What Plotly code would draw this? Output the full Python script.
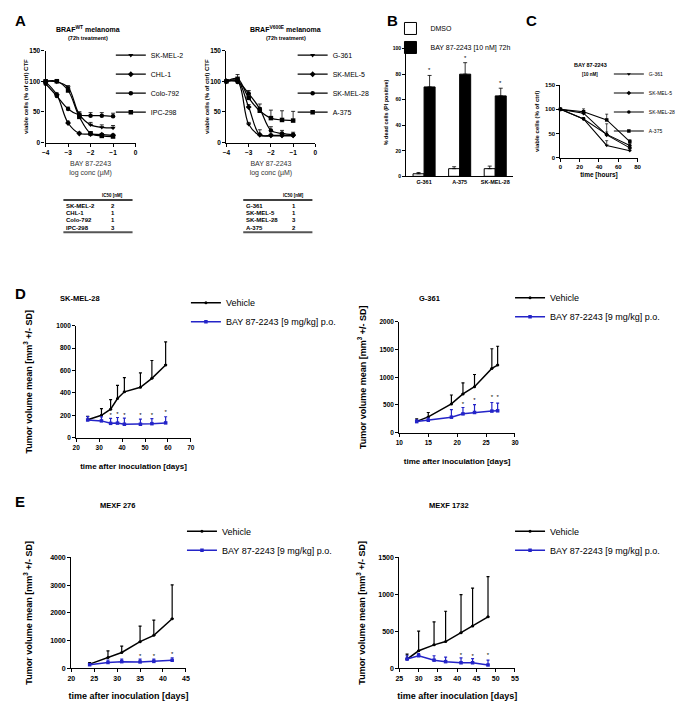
import plotly.graph_objects as go

W, H = 685, 701
OFF = 8                      # page body margin; the figure is drawn inside it
FW, FH = W - OFF, H - OFF

# ---------- A: dose response after 72 h ----------
log_conc = [-4, -3.5, -3, -2.5, -2, -1.5, -1]
symbols = ["triangle-down", "diamond", "circle", "square"]

wt_lines = ["SK-MEL-2", "CHL-1", "Colo-792", "IPC-298"]
wt_skmel2 = [100, 99, 90, 46, 29, 25, 24]
wt_chl1 = [99, 78, 32, 15, 14, 13, 12]
wt_colo792 = [96, 76, 55, 45, 44, 44, 43]
wt_ipc298 = [100, 100, 85, 42, 15, 11, 10]
wt_skmel2_err = [2, 2, 3, 4, 4, 4, 4]
wt_chl1_err = [2, 3, 3, 2, 2, 2, 2]
wt_colo792_err = [3, 3, 3, 5, 5, 5, 5]
wt_ipc298_err = [2, 3, 4, 4, 3, 3, 3]
wt_ic50 = [2, 1, 1, 3]

mut_lines = ["G-361", "SK-MEL-5", "SK-MEL-28", "A-375"]
mut_g361 = [100, 100, 30, 12, 11, 11, 11]
mut_skmel5 = [100, 101, 58, 13, 12, 12, 12]
mut_skmel28 = [100, 99, 80, 55, 20, 15, 13]
mut_a375 = [100, 104, 73, 52, 40, 37, 36]
mut_g361_err = [2, 3, 3, 2, 2, 2, 2]
mut_skmel5_err = [2, 3, 4, 8, 2, 2, 2]
mut_skmel28_err = [2, 4, 5, 8, 6, 5, 4]
mut_a375_err = [2, 7, 6, 5, 13, 15, 15]
mut_ic50 = [1, 1, 3, 2]

# ---------- B: dead cells ----------
b_cells = ["G-361", "A-375", "SK-MEL-28"]
b_dmso = [2, 6, 6]
b_dmso_err = [1, 1.5, 2]
b_bay = [70, 80, 63]
b_bay_err = [9, 9, 6]

# ---------- C: time course ----------
c_hours = [0, 24, 48, 72]
c_g361 = [100, 80, 25, 14]
c_skmel5 = [100, 92, 47, 20]
c_skmel28 = [100, 80, 48, 25]
c_a375 = [100, 95, 78, 33]
c_g361_err = [2, 3, 10, 3]
c_skmel5_err = [2, 3, 23, 3]
c_skmel28_err = [2, 3, 5, 4]
c_a375_err = [2, 6, 12, 4]

# ---------- D / E: xenografts ----------
d1_days = [25, 31, 35, 38, 41, 48, 53, 59]
d1_veh = [160, 200, 255, 350, 410, 450, 530, 650]
d1_veh_sd = [30, 60, 85, 118, 127, 130, 160, 207]
d1_bay = [158, 150, 128, 130, 120, 120, 125, 132]
d1_bay_sd = [30, 35, 45, 50, 55, 45, 45, 55]
d1_star_days = [35, 38, 41, 48, 53, 59]
d1_star_y = [200, 205, 200, 195, 200, 222]

d2_days = [13, 15, 19, 21, 23, 26, 27]
d2_veh = [205, 285, 520, 700, 830, 1160, 1220]
d2_veh_sd = [45, 80, 160, 200, 220, 355, 340]
d2_bay = [200, 225, 280, 340, 365, 390, 395]
d2_bay_sd = [30, 40, 135, 115, 140, 155, 140]
d2_star_days = [21, 23, 26, 27]
d2_star_y = [515, 575, 640, 640]

e1_days = [24, 28, 31, 35, 38, 42]
e1_veh = [150, 390, 570, 960, 1190, 1790]
e1_veh_sd = [60, 240, 230, 560, 550, 1220]
e1_bay = [130, 210, 240, 230, 250, 290]
e1_bay_sd = [40, 90, 90, 100, 80, 90]
e1_star_days = [35, 38, 42]
e1_star_y = [420, 440, 510]

e2_days = [27, 30, 34, 37, 41, 44, 48]
e2_veh = [125, 237, 317, 362, 482, 571, 696]
e2_veh_sd = [67, 267, 312, 410, 514, 514, 545]
e2_bay = [125, 170, 110, 90, 75, 75, 45]
e2_bay_sd = [45, 30, 60, 60, 65, 55, 65]
e2_star_days = [41, 44, 48]
e2_star_y = [170, 160, 175]

FONT = "Liberation Sans, Arial, sans-serif"
BLUE = "#2424c8"


# page pixel -> paper fraction
def px(x):
    return (x - OFF) / FW


def py(y):
    return 1 - (y - OFF) / FH


def xdom(a, b):
    return [px(a), px(b)]


def ydom(top, bottom):
    return [py(bottom), py(top)]


def up_err(vals, cap=2, thick=0.8, color="black"):
    return dict(type="data", array=vals, arrayminus=[0] * len(vals), symmetric=False,
                width=cap, thickness=thick, color=color)


def axis(size, **kw):
    d = dict(showline=True, linecolor="black", linewidth=1.3, ticks="outside", ticklen=3,
             tickwidth=1, tickcolor="black", showgrid=False, zeroline=False,
             tickfont=dict(size=size, color="black", weight="bold"))
    d.update(kw)
    return d


def legend_at(x, top, size):
    return dict(x=px(x), y=py(top), xanchor="left", yanchor="top", bgcolor="rgba(0,0,0,0)",
                font=dict(size=size, color="black"), itemwidth=30, tracegroupgap=0)


def note(text, x, y, size, bold=True, xanchor="center", color="black"):
    fig.add_annotation(text=text, x=px(x), y=py(y), xref="paper", yref="paper", showarrow=False,
                       xanchor=xanchor, yanchor="middle",
                       font=dict(size=size, color=color, weight="bold" if bold else "normal"))


fig = go.Figure()

# A: two dose-response panels
wt_series = [wt_skmel2, wt_chl1, wt_colo792, wt_ipc298]
wt_errs = [wt_skmel2_err, wt_chl1_err, wt_colo792_err, wt_ipc298_err]
mut_series = [mut_g361, mut_skmel5, mut_skmel28, mut_a375]
mut_errs = [mut_g361_err, mut_skmel5_err, mut_skmel28_err, mut_a375_err]

for names, series, errs, xa, ya, leg in [(wt_lines, wt_series, wt_errs, "x", "y", "legend"),
                                         (mut_lines, mut_series, mut_errs, "x2", "y2", "legend2")]:
    for name, ys, es, sym in zip(names, series, errs, symbols):
        fig.add_trace(go.Scatter(x=log_conc, y=ys, name=name, mode="lines+markers",
                                 line=dict(color="black", width=1.2, shape="spline"),
                                 marker=dict(symbol=sym, size=4.5, color="black"),
                                 error_y=up_err(es), cliponaxis=False,
                                 xaxis=xa, yaxis=ya, legend=leg))

# B: bars
fig.add_trace(go.Bar(x=b_cells, y=b_dmso, name="DMSO", marker=dict(color="white", line=dict(color="black", width=1)),
                     error_y=up_err(b_dmso_err), xaxis="x3", yaxis="y3", legend="legend3"))
fig.add_trace(go.Bar(x=b_cells, y=b_bay, name="BAY 87-2243 [10 nM] 72h", marker=dict(color="black", line=dict(color="black", width=1)),
                     error_y=up_err(b_bay_err), xaxis="x3", yaxis="y3", legend="legend3"))
for i, (v, e) in enumerate(zip(b_bay, b_bay_err)):
    fig.add_annotation(text="*", x=i + 0.155, y=v + e, xref="x3", yref="y3", showarrow=False,
                       yanchor="bottom", font=dict(size=6, color="black"))

# C: time course
c_series = [c_g361, c_skmel5, c_skmel28, c_a375]
c_errs = [c_g361_err, c_skmel5_err, c_skmel28_err, c_a375_err]
for name, ys, es, sym in zip(mut_lines, c_series, c_errs, symbols):
    fig.add_trace(go.Scatter(x=c_hours, y=ys, name=name, mode="lines+markers",
                             line=dict(color="black", width=1.1),
                             marker=dict(symbol=sym, size=3.5, color="black"),
                             error_y=up_err(es, 1.5, 0.7), cliponaxis=False,
                             xaxis="x4", yaxis="y4", legend="legend4"))

# D / E: tumour growth
xeno = [
    (d1_days, d1_veh, d1_veh_sd, d1_bay, d1_bay_sd, d1_star_days, d1_star_y, "x5", "y5", "legend5"),
    (d2_days, d2_veh, d2_veh_sd, d2_bay, d2_bay_sd, d2_star_days, d2_star_y, "x6", "y6", "legend6"),
    (e1_days, e1_veh, e1_veh_sd, e1_bay, e1_bay_sd, e1_star_days, e1_star_y, "x7", "y7", "legend7"),
    (e2_days, e2_veh, e2_veh_sd, e2_bay, e2_bay_sd, e2_star_days, e2_star_y, "x8", "y8", "legend8"),
]
for days, veh, veh_sd, bay, bay_sd, sdays, sy, xa, ya, leg in xeno:
    fig.add_trace(go.Scatter(x=days, y=veh, name="Vehicle", mode="lines+markers",
                             line=dict(color="black", width=1.5), marker=dict(size=3, color="black"),
                             error_y=up_err(veh_sd, 1.5, 1.2), cliponaxis=False,
                             xaxis=xa, yaxis=ya, legend=leg))
    fig.add_trace(go.Scatter(x=days, y=bay, name="BAY 87-2243 [9 mg/kg] p.o.", mode="lines+markers",
                             line=dict(color=BLUE, width=1.5), marker=dict(symbol="square", size=3.5, color=BLUE),
                             error_y=up_err(bay_sd, 1.5, 1.2, BLUE),
                             cliponaxis=False, xaxis=xa, yaxis=ya, legend=leg))
    fig.add_trace(go.Scatter(x=sdays, y=sy, mode="text", text=["*"] * len(sdays), showlegend=False,
                             textfont=dict(size=6, color="black"), cliponaxis=False, xaxis=xa, yaxis=ya))

ytitle_tv = "Tumor volume mean [mm<sup>3</sup> +/- SD]"
xtitle_tv = "time after inoculation [days]"
ttl_a = dict(text="BAY 87-2243<br>log conc (µM)", font=dict(size=7, color="#333"), standoff=6)
ytl_a = dict(text="viable cells (% of ctrl) CTF", font=dict(size=6, color="black", weight="bold"), standoff=0)


def tv_x(size, standoff):
    return dict(text=xtitle_tv, font=dict(size=size, color="black", weight="bold"), standoff=standoff)


def tv_y(standoff):
    return dict(text=ytitle_tv, font=dict(size=9, color="black", weight="bold"), standoff=standoff)


fig.update_layout(
    width=FW, height=FH, margin=dict(l=0, r=0, t=0, b=0),
    paper_bgcolor="white", plot_bgcolor="white",
    font=dict(family=FONT, color="black"),
    bargap=0.38, bargroupgap=0, barmode="group",
    xaxis=axis(6.5, domain=xdom(42, 133), anchor="y", range=[-4, 0], tickvals=[-4, -3, -2, -1, 0], title=ttl_a),
    yaxis=axis(6.5, domain=ydom(47, 140), anchor="x", range=[0, 150], tickvals=[0, 50, 100, 150], title=ytl_a),
    xaxis2=axis(6.5, domain=xdom(225, 315), anchor="y2", range=[-4, 0], tickvals=[-4, -3, -2, -1, 0], title=ttl_a),
    yaxis2=axis(6.5, domain=ydom(47, 140), anchor="x2", range=[0, 150], tickvals=[0, 50, 100, 150], title=ytl_a),
    xaxis3=axis(5.5, domain=xdom(407, 515), anchor="y3", ticks=""),
    yaxis3=axis(5, domain=ydom(45, 174), anchor="x3", range=[0, 100], tickvals=[0, 20, 40, 60, 80, 100],
                title=dict(text="% dead cells (PI positive)", font=dict(size=5.5, color="black", weight="bold"), standoff=3)),
    xaxis4=axis(6, domain=xdom(563, 641), anchor="y4", range=[0, 80], tickvals=[0, 20, 40, 60, 80],
                title=dict(text="time [hours]", font=dict(size=6.5, color="black", weight="bold"), standoff=3)),
    yaxis4=axis(6, domain=ydom(82, 155), anchor="x4", range=[0, 150], tickvals=[0, 50, 100, 150],
                title=dict(text="viable cells (% of ctrl)", font=dict(size=6, color="black", weight="bold"), standoff=4)),
    xaxis5=axis(6.5, domain=xdom(73, 189), anchor="y5", range=[20, 70], dtick=10, title=tv_x(8, 13)),
    yaxis5=axis(6.5, domain=ydom(325, 438), anchor="x5", range=[0, 1000], dtick=200, title=tv_y(22)),
    xaxis6=axis(6.5, domain=xdom(400, 517), anchor="y6", range=[10, 30], dtick=5, title=tv_x(8, 13)),
    yaxis6=axis(6.5, domain=ydom(321, 433), anchor="x6", range=[0, 2000], dtick=500, title=tv_y(11)),
    xaxis7=axis(7, domain=xdom(68, 184), anchor="y7", range=[20, 45], dtick=5, title=tv_x(9, 13)),
    yaxis7=axis(7, domain=ydom(559, 671), anchor="x7", range=[0, 4000], dtick=1000, title=tv_y(16)),
    xaxis8=axis(7, domain=xdom(400, 517), anchor="y8", range=[25, 55], dtick=5, title=tv_x(9, 13)),
    yaxis8=axis(7, domain=ydom(559, 671), anchor="x8", range=[0, 1500], dtick=500, title=tv_y(11)),
    legend=legend_at(108, 37, 7),
    legend2=legend_at(292, 37, 7),
    legend3=legend_at(391, 10, 7),
    legend4=legend_at(612, 56, 5),
    legend5=legend_at(184, 287, 9),
    legend6=legend_at(512, 282, 9),
    legend7=legend_at(180, 518, 9),
    legend8=legend_at(512, 518, 9),
)

# panel letters
for letter, x, y in [("A", 9, 17), ("B", 385, 17), ("C", 526, 17), ("D", 9, 292), ("E", 9, 502)]:
    note(letter, x, y, 15, xanchor="left")

# panel titles
note("BRAF<sup>WT</sup> melanoma", 85, 25, 7)
note("(72h treatment)", 85, 34, 5.5)
note("BRAF<sup>V600E</sup> melanoma", 285, 25, 7)
note("(72h treatment)", 285, 34, 5.5)
note("BAY 87-2243", 593, 62, 5.5)
note("[10 nM]", 593, 71, 4.5)
note("SK-MEL-28", 77, 297, 7.5)
note("G-361", 430, 297, 7.5)
note("MEXF 276", 115, 507, 7.5)
note("MEXF 1732", 450, 507, 7.5)

# IC50 tables under panel A
for names, vals, x0, xv, x1 in [(wt_lines, wt_ic50, 61, 110, 130), (mut_lines, mut_ic50, 243, 293, 312)]:
    note("IC50 [nM]", xv, 193, 4.5)
    fig.add_shape(type="line", xref="paper", yref="paper", x0=px(x0 - 1), x1=px(x1),
                  y0=py(198), y1=py(198), line=dict(color="black", width=1.5))
    for i, (n, v) in enumerate(zip(names, vals)):
        yy = 203.5 + i * 7.4
        note(n, x0, yy, 6, xanchor="left")
        note(str(v), xv, yy, 6)
    fig.add_shape(type="line", xref="paper", yref="paper", x0=px(x0 - 1), x1=px(x1),
                  y0=py(230.5), y1=py(230.5), line=dict(color="#555", width=2))

fig.write_html("out.html")
